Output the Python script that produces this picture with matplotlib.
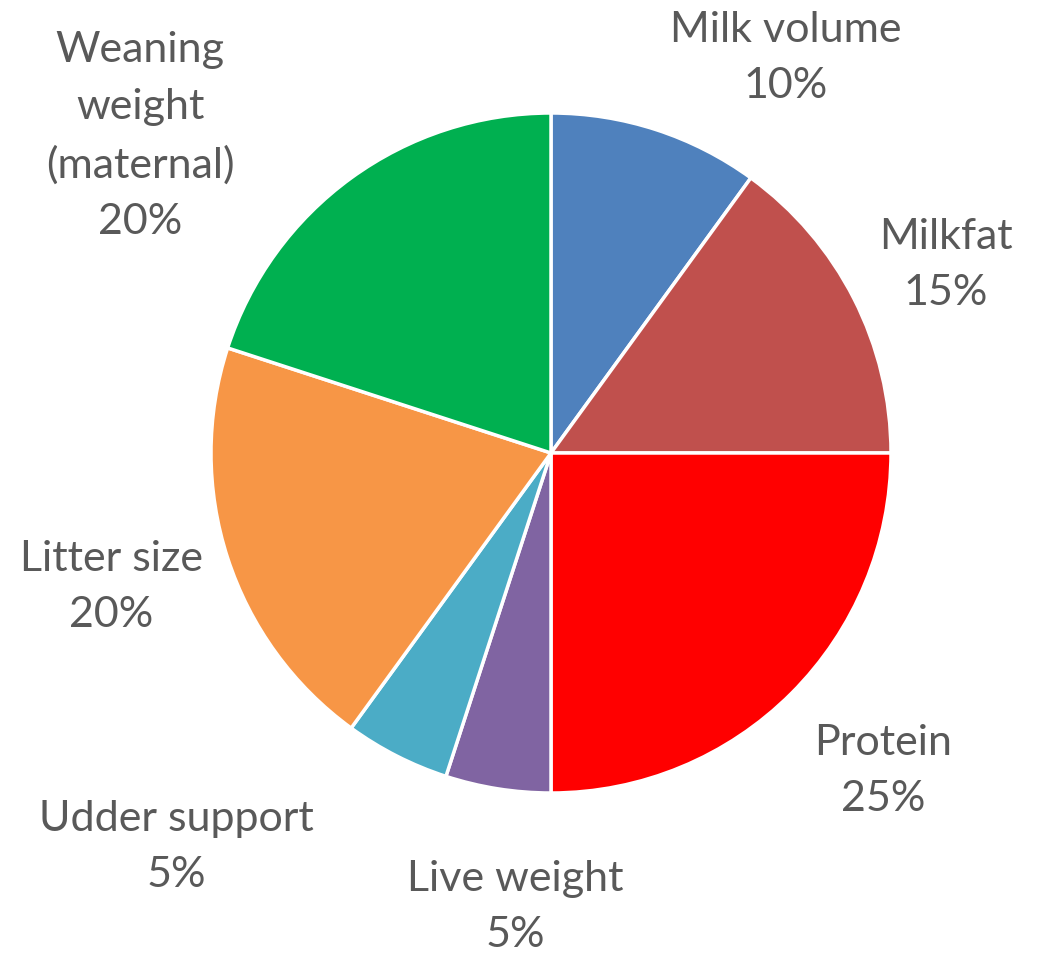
import matplotlib
matplotlib.use("Agg")
import matplotlib.pyplot as plt

# 各项权重
traits = ["Milk volume", "Milkfat", "Protein", "Live weight",
          "Udder support", "Litter size", "Weaning\nweight\n(maternal)"]
weights = [10, 15, 25, 5, 5, 20, 20]
colors = ["#4F81BD", "#C0504D", "#FF0000", "#8064A2",
          "#4BACC6", "#F79646", "#00B050"]

# label centres in pixel coords (x, y from top)
label_pos = [(786, 58), (946, 265), (883, 771), (515, 907),
             (176, 847), (111, 587), (140, 136)]

W, H = 1041, 954
fig = plt.figure(figsize=(W / 100, H / 100), dpi=100)
ax = fig.add_axes([0, 0, 1, 1])

ax.pie(weights, colors=colors, startangle=90, counterclock=False,
       center=(551, H - 454), radius=340, frame=True,
       wedgeprops={"edgecolor": "white", "linewidth": 2.5})
ax.set_xlim(0, W)
ax.set_ylim(0, H)
ax.set_aspect("equal")
ax.axis("off")

for name, w, (x, y) in zip(traits, weights, label_pos):
    ax.text(x, H - y, f"{name}\n{w}%", ha="center", va="center",
            fontsize=31, family="Lato", color="#595959", linespacing=1.6)

plt.savefig("out.png", dpi=100)
plt.close()
